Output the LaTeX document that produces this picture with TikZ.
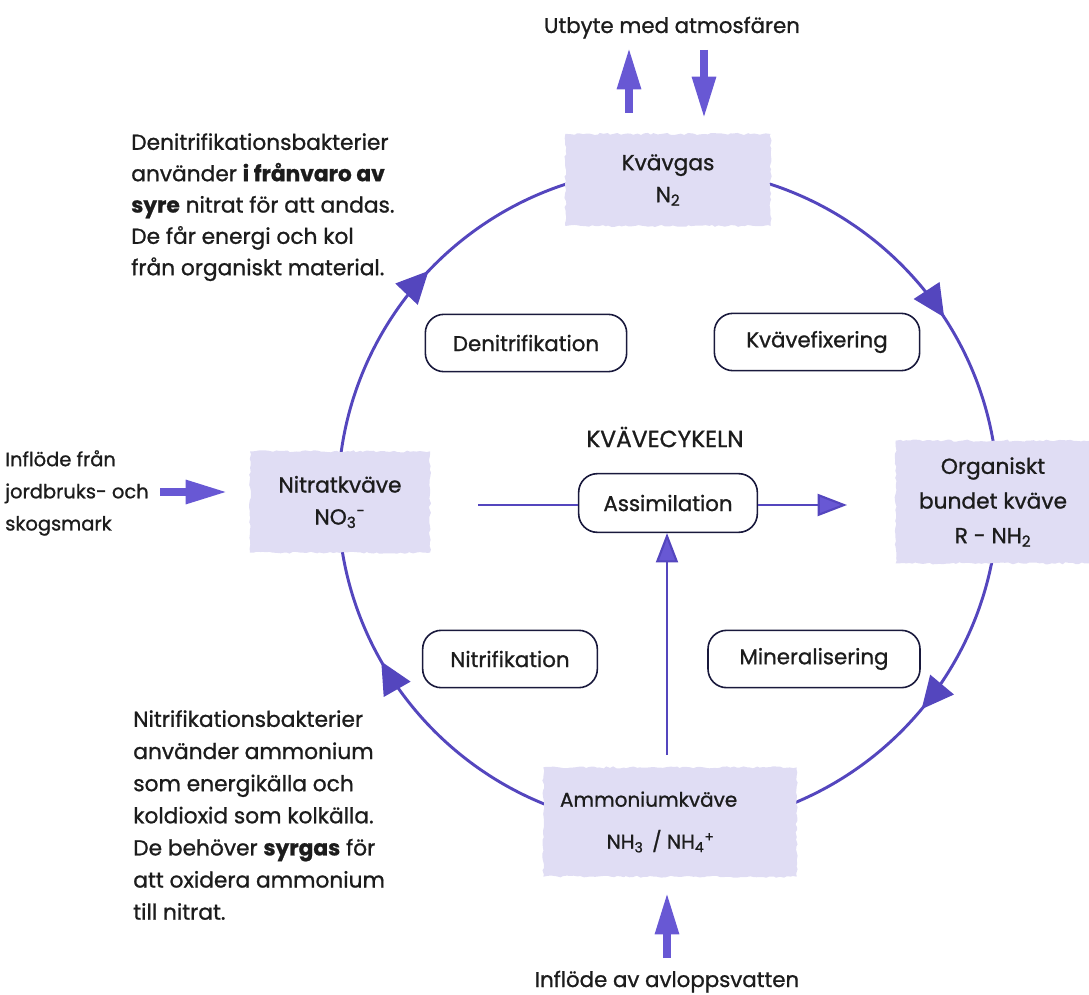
\documentclass[tikz,border=0pt]{standalone}
\usepackage{fontspec}
\setmainfont{Poppins}[FakeBold=1.0]
\usetikzlibrary{arrows.meta,decorations.markings,decorations.pathmorphing,calc}
\definecolor{cyc}{RGB}{84,70,190}
\definecolor{arrfill}{RGB}{104,88,212}
\definecolor{boxfill}{RGB}{224,221,244}
\definecolor{ink}{RGB}{28,28,28}
\definecolor{pborder}{RGB}{25,25,60}
\begin{document}
\begin{tikzpicture}[x=0.75pt,y=0.75pt,
  every node/.style={text=ink, font=\fontsize{16}{24}\selectfont},
  pool/.style={fill=boxfill, align=center, inner sep=0pt, font=\fontsize{16.3}{24}\selectfont,
    decorate, decoration={random steps, segment length=2.5pt, amplitude=0.8pt}},
  proc/.style={draw=pborder, line width=1.2pt, rounded corners=14pt, fill=white, minimum height=43pt, inner sep=0pt},
  cycline/.style={draw=cyc, line width=2.2pt},
  cyhead/.style={postaction={decorate, decoration={markings,
     mark=at position #1 with {\arrow[cyc, fill=arrfill, line width=1pt]{Triangle[length=24pt,width=23pt]}}}}},
  blockarr/.style={draw=arrfill, line width=5.3pt, -{Triangle[length=31pt,width=17pt]}},
  thinarr/.style={draw=cyc, line width=1.6pt},
  note/.style={align=left, anchor=north west, inner sep=0pt, font=\fontsize{16.3}{24.1}\selectfont}
]
\useasboundingbox (0,0) rectangle (1089,-995);
\coordinate (C) at (668,-498);
% cycle arcs
\draw[cycline, cyhead=0.631] ($(C)+(90:247.5pt)$) arc[start angle=90, end angle=0, radius=247.5pt];
\draw[cycline, cyhead=0.442] ($(C)+(0:247.5pt)$) arc[start angle=0, end angle=-90, radius=247.5pt];
\draw[cycline, cyhead=0.67] ($(C)+(-90:247.5pt)$) arc[start angle=-90, end angle=-180, radius=247.5pt];
\draw[cycline, cyhead=0.483] ($(C)+(180:247.5pt)$) arc[start angle=180, end angle=90, radius=247.5pt];

% pools
\node[pool, minimum width=154pt, minimum height=69pt] (kv) at (668,-180) {Kvävgas\\N\textsubscript{2}};
\node[pool, minimum width=135pt, minimum height=76pt] (no3) at (340,-502) {Nitratkväve\\NO\textsubscript{3}\textsuperscript{-}};
\node[pool, minimum width=146pt, minimum height=92pt, font=\fontsize{16.3}{26}\selectfont] (org) at (993,-502) {Organiskt\\bundet kväve\\R - NH\textsubscript{2}};
\node[pool, minimum width=190pt, minimum height=82pt, align=left, font=\fontsize{15}{31.5}\selectfont] (amm) at (670,-822)
  {\makebox[165pt][l]{Ammoniumkväve}\\\makebox[165pt][l]{\hspace*{35pt}NH\textsubscript{3} \,/ NH\textsubscript{4}\textsuperscript{+}}};

% processes
\node[proc, minimum width=151pt] (den) at (526,-343) {Denitrifikation};
\node[proc, minimum width=154pt] (fix) at (817,-342) {Kvävefixering};
\node[proc, minimum width=134pt, minimum height=44pt] (ass) at (668,-503) {Assimilation};
\node[proc, minimum width=131pt] (nit) at (510,-659) {Nitrifikation};
\node[proc, minimum width=159pt] (min) at (814,-659) {Mineralisering};

\node[font=\fontsize{17.5}{24}\selectfont] (kvc) at (665,-437) {KVÄVECYKELN};

% assimilation connectors
\coordinate (a0) at (478,-505);
\coordinate (a1) at (847,-505);
\coordinate (v0) at (667,-755);
\draw[thinarr] (a0) -- (a0 -| ass.west);
\draw[thinarr, -{Triangle[length=22pt,width=16.5pt]}, arrows={[fill=arrfill]}] (a1 -| ass.east) -- (a1);
\draw[thinarr, -{Triangle[length=22pt,width=16.5pt]}, arrows={[fill=arrfill]}] (v0) -- (v0 |- ass.south);

% atmosphere
\node[anchor=base] (atm) at (672,-33) {Utbyte med atmosfären};
\coordinate (up0) at (629,-113);
\coordinate (up1) at (629,-48);
\coordinate (dn0) at (704,-50);
\coordinate (dn1) at (704,-118);
\draw[blockarr] (up0) -- (up1);
\draw[blockarr] (dn0) -- (dn1);

% bottom inflow
\node[anchor=base] (avl) at (667,-987) {Inflöde av avloppsvatten};
\coordinate (b0) at (667,-958);
\coordinate (b1) at (667,-893);
\draw[blockarr] (b0) -- (b1);

% left inflow
\node[note, font=\fontsize{14.6}{24.1}\selectfont] (jord) at (5,-450) {Inflöde från\\jordbruks- och\\skogsmark};
\coordinate (l0) at (160,-492);
\coordinate (l1) at (227,-492);
\draw[blockarr] (l0) -- (l1);

% notes
\node[note, font=\fontsize{16.3}{23.5}\selectfont] (dtext) at (131,-133) {Denitrifikationsbakterier\\använder \textbf{i frånvaro av}\\\textbf{syre} nitrat för att andas.\\De får energi och kol\\från organiskt material.};
\node[note] (ntext) at (133,-710) {Nitrifikationsbakterier\\använder ammonium\\som energikälla och\\koldioxid som kolkälla.\\De behöver \textbf{syrgas} för\\att oxidera ammonium\\till nitrat.};
\end{tikzpicture}
\end{document}
